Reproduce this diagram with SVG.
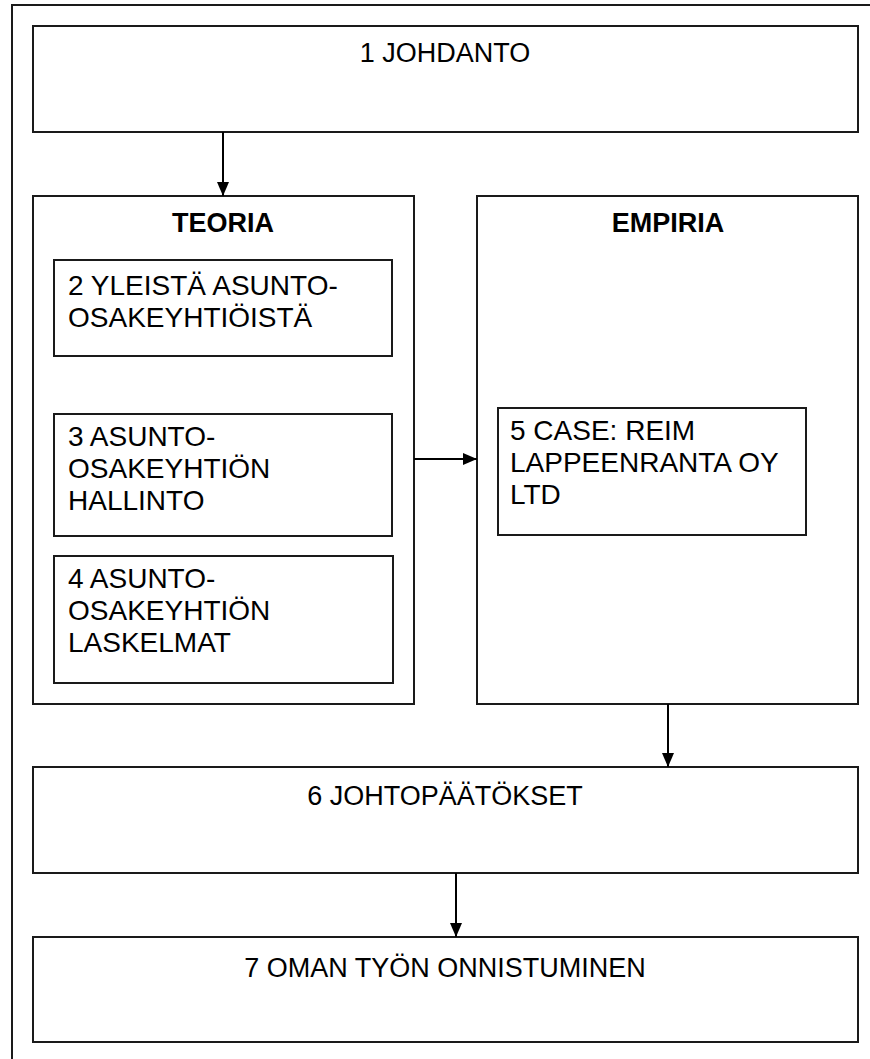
<svg xmlns="http://www.w3.org/2000/svg" width="870" height="1059" viewBox="0 0 870 1059">
<defs>
<style>
.box{fill:#fff;stroke:#1a1a1a;stroke-width:2}
.frame{fill:none;stroke:#1a1a1a;stroke-width:2}
.t{font-family:"Liberation Sans",Arial,sans-serif;font-size:27px;fill:#000}
.i{font-size:28px}
.c{text-anchor:middle}
.b{font-weight:bold}
.con{stroke:#000;stroke-width:2;fill:none;marker-end:url(#ah)}
</style>
<marker id="ah" viewBox="0 0 14 12" refX="14" refY="6" markerWidth="14" markerHeight="12" markerUnits="userSpaceOnUse" orient="auto">
<path d="M0,0 L14,6 L0,12 Z" fill="#000"/>
</marker>
</defs>
<rect width="870" height="1059" fill="#fff"/>
<path class="frame" d="M12,1059 V5 H870"/>
<g id="n1"><rect class="box" x="33" y="26" width="825" height="106"/><text class="t c" x="445" y="62">1 JOHDANTO</text></g>
<g id="teoria"><rect class="box" x="33" y="196" width="381" height="508"/><text class="t c b" x="223" y="232">TEORIA</text></g>
<g id="empiria"><rect class="box" x="477" y="196" width="381" height="508"/><text class="t c b" x="668" y="232">EMPIRIA</text></g>
<g id="n2"><rect class="box" x="54" y="260" width="338" height="96"/><text class="t i"><tspan x="68" y="295">2 YLEISTÄ ASUNTO-</tspan><tspan x="68" y="327">OSAKEYHTIÖISTÄ</tspan></text></g>
<g id="n3"><rect class="box" x="54" y="414" width="338" height="122"/><text class="t i"><tspan x="68" y="446">3 ASUNTO-</tspan><tspan x="68" y="478">OSAKEYHTIÖN</tspan><tspan x="68" y="510">HALLINTO</tspan></text></g>
<g id="n4"><rect class="box" x="54" y="556" width="339" height="127"/><text class="t i"><tspan x="68" y="588">4 ASUNTO-</tspan><tspan x="68" y="620">OSAKEYHTIÖN</tspan><tspan x="68" y="652">LASKELMAT</tspan></text></g>
<g id="n5"><rect class="box" x="498" y="408" width="308" height="127"/><text class="t i"><tspan x="510" y="440">5 CASE: REIM</tspan><tspan x="510" y="472">LAPPEENRANTA OY</tspan><tspan x="510" y="504">LTD</tspan></text></g>
<g id="n6"><rect class="box" x="33" y="767" width="825" height="106"/><text class="t c" x="445" y="805">6 JOHTOPÄÄTÖKSET</text></g>
<g id="n7"><rect class="box" x="33" y="937" width="825" height="105"/><text class="t c" x="445" y="977">7 OMAN TYÖN ONNISTUMINEN</text></g>
<g id="connectors">
<path class="con" d="M223,132 V196"/>
<path class="con" d="M414,459 H477"/>
<path class="con" d="M668,704 V767"/>
<path class="con" d="M456,873 V937"/>
</g>
</svg>
